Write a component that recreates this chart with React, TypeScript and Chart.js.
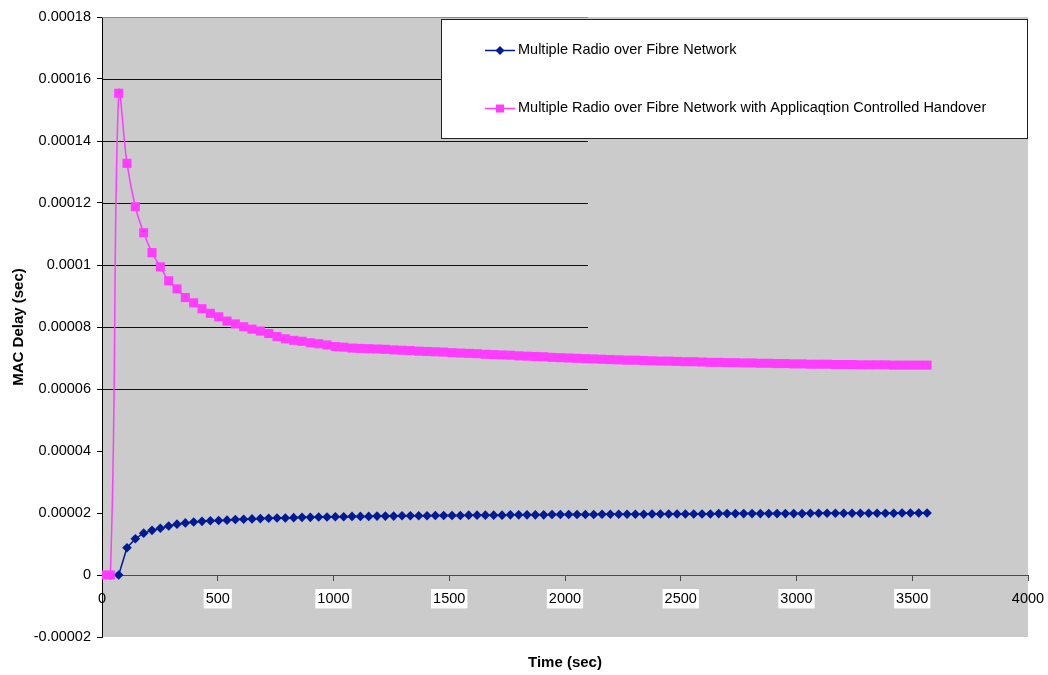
import React, { useEffect, useRef } from "react";
import { Chart, registerables } from "chart.js";

Chart.register(...registerables);

// ---- Data ----
const TIME_SEC = [
  0, 36, 72, 108, 144, 180, 216, 252, 288, 324,
  360, 396, 432, 468, 504, 540, 576, 612, 648, 684,
  720, 756, 792, 828, 864, 900, 936, 972, 1008, 1044,
  1080, 1116, 1152, 1188, 1224, 1260, 1296, 1332, 1368, 1404,
  1440, 1476, 1512, 1548, 1584, 1620, 1656, 1692, 1728, 1764,
  1800, 1836, 1872, 1908, 1944, 1980, 2016, 2052, 2088, 2124,
  2160, 2196, 2232, 2268, 2304, 2340, 2376, 2412, 2448, 2484,
  2520, 2556, 2592, 2628, 2664, 2700, 2736, 2772, 2808, 2844,
  2880, 2916, 2952, 2988, 3024, 3060, 3096, 3132, 3168, 3204,
  3240, 3276, 3312, 3348, 3384, 3420, 3456, 3492, 3528, 3564,
];

const MROF_DELAY = [
  0, 0, 0, 8.8e-6, 1.17e-5, 1.35e-5, 1.44e-5, 1.51e-5, 1.58e-5, 1.64e-5,
  1.68e-5, 1.71e-5, 1.73e-5, 1.75e-5, 1.76e-5, 1.77e-5, 1.79e-5, 1.8e-5, 1.81e-5, 1.82e-5,
  1.83e-5, 1.84e-5, 1.84e-5, 1.85e-5, 1.86e-5, 1.86e-5, 1.87e-5, 1.87e-5, 1.88e-5, 1.88e-5,
  1.89e-5, 1.89e-5, 1.89e-5, 1.9e-5, 1.9e-5, 1.9e-5, 1.91e-5, 1.91e-5, 1.91e-5, 1.91e-5,
  1.92e-5, 1.92e-5, 1.92e-5, 1.92e-5, 1.93e-5, 1.93e-5, 1.93e-5, 1.93e-5, 1.93e-5, 1.94e-5,
  1.94e-5, 1.94e-5, 1.94e-5, 1.94e-5, 1.95e-5, 1.95e-5, 1.95e-5, 1.95e-5, 1.95e-5, 1.95e-5,
  1.96e-5, 1.96e-5, 1.96e-5, 1.96e-5, 1.96e-5, 1.96e-5, 1.97e-5, 1.97e-5, 1.97e-5, 1.97e-5,
  1.97e-5, 1.97e-5, 1.97e-5, 1.97e-5, 1.98e-5, 1.98e-5, 1.98e-5, 1.98e-5, 1.98e-5, 1.98e-5,
  1.98e-5, 1.98e-5, 1.98e-5, 1.98e-5, 1.98e-5, 1.99e-5, 1.99e-5, 1.99e-5, 1.99e-5, 1.99e-5,
  1.99e-5, 1.99e-5, 1.99e-5, 1.99e-5, 1.99e-5, 1.99e-5, 2.0e-5, 2.0e-5, 2.0e-5, 2.0e-5,
];

const MROF_ACH_DELAY = [
  0, 0, 1.554e-4, 1.328e-4, 1.188e-4, 1.104e-4, 1.04e-4, 9.94e-5, 9.49e-5, 9.23e-5,
  8.95e-5, 8.78e-5, 8.59e-5, 8.44e-5, 8.33e-5, 8.19e-5, 8.1e-5, 8.01e-5, 7.93e-5, 7.87e-5,
  7.79e-5, 7.69e-5, 7.62e-5, 7.57e-5, 7.54e-5, 7.49e-5, 7.46e-5, 7.42e-5, 7.37e-5, 7.35e-5,
  7.32e-5, 7.31e-5, 7.3e-5, 7.29e-5, 7.28e-5, 7.26e-5, 7.25e-5, 7.24e-5, 7.22e-5, 7.21e-5,
  7.2e-5, 7.19e-5, 7.17e-5, 7.16e-5, 7.15e-5, 7.14e-5, 7.12e-5, 7.11e-5, 7.1e-5, 7.09e-5,
  7.07e-5, 7.06e-5, 7.05e-5, 7.04e-5, 7.02e-5, 7.01e-5, 7.0e-5, 6.99e-5, 6.98e-5, 6.97e-5,
  6.96e-5, 6.95e-5, 6.94e-5, 6.93e-5, 6.93e-5, 6.92e-5, 6.91e-5, 6.9e-5, 6.9e-5, 6.89e-5,
  6.88e-5, 6.88e-5, 6.87e-5, 6.86e-5, 6.86e-5, 6.85e-5, 6.85e-5, 6.84e-5, 6.84e-5, 6.83e-5,
  6.83e-5, 6.82e-5, 6.82e-5, 6.81e-5, 6.81e-5, 6.8e-5, 6.8e-5, 6.8e-5, 6.79e-5, 6.79e-5,
  6.79e-5, 6.78e-5, 6.78e-5, 6.78e-5, 6.78e-5, 6.77e-5, 6.77e-5, 6.77e-5, 6.77e-5, 6.77e-5,
];

const SERIES_NAMES = [
  "Multiple Radio over Fibre Network",
  "Multiple Radio over Fibre Network with Applicaqtion Controlled Handover",
];

const X_TITLE = "Time (sec)";
const Y_TITLE = "MAC Delay (sec)";
const X_MIN = 0;
const X_MAX = 4000;
const X_STEP = 500;
const Y_MIN = -0.00002;
const Y_MAX = 0.00018;
const Y_STEP = 0.00002;

// gridline rendering quirk of the original (lines drawn only on the upper-left part)
const GRID_END_X = 2100;
const GRID_FROM_Y = 0.00006;

const BLUE = "#001a96";
const PINK = "#ff3cff";
const PLOT_BG = "#cbcbcb";
const FONT = "'Liberation Sans', Arial, sans-serif";
const TICK_SIZE = 14.5;
const TITLE_SIZE = 15;

const bgPlugin = {
  id: "plotBg",
  beforeDraw(chart: any) {
    const { ctx, chartArea: a } = chart;
    ctx.save();
    ctx.fillStyle = PLOT_BG;
    ctx.fillRect(a.left, a.top, a.right - a.left, a.bottom - a.top);
    ctx.restore();
  },
};

const gridPlugin = {
  id: "partialGrid",
  beforeDatasetsDraw(chart: any) {
    const { ctx, chartArea: a } = chart;
    const xs = chart.scales.x;
    const ys = chart.scales.y;
    const xEnd = Math.round(xs.getPixelForValue(GRID_END_X));
    ctx.save();
    ys.ticks.forEach((t: any) => {
      if (t.value < GRID_FROM_Y - 1e-12) return;
      const y = Math.round(ys.getPixelForValue(t.value)) + 0.5;
      const isTop = Math.abs(t.value - Y_MAX) < 1e-12;
      ctx.strokeStyle = isTop ? "#8a8a8a" : "#111111";
      ctx.lineWidth = 1;
      ctx.beginPath();
      ctx.moveTo(a.left, y);
      ctx.lineTo(xEnd, y);
      ctx.stroke();
    });
    ctx.restore();
  },
};

function drawMarker(ctx: CanvasRenderingContext2D, style: string, x: number, y: number, color: string) {
  ctx.fillStyle = color;
  ctx.beginPath();
  if (style === "rectRot") {
    const r = 4.5;
    ctx.moveTo(x, y - r);
    ctx.lineTo(x + r, y);
    ctx.lineTo(x, y + r);
    ctx.lineTo(x - r, y);
    ctx.closePath();
  } else {
    ctx.rect(x - 4, y - 4, 8, 8);
  }
  ctx.fill();
}

const legendPlugin = {
  id: "boxLegend",
  afterDraw(chart: any) {
    const { ctx, chartArea: a } = chart;
    const left = 441.5;
    const top = 19.5;
    const right = a.right - 0.5;
    const bottom = 138.5;
    ctx.save();
    ctx.fillStyle = "#ffffff";
    ctx.fillRect(left, top, right - left, bottom - top);
    ctx.strokeStyle = "#222222";
    ctx.lineWidth = 1;
    ctx.strokeRect(left, top, right - left, bottom - top);
    const rows = [50, 108];
    chart.data.datasets.forEach((ds: any, i: number) => {
      const y = rows[i];
      ctx.strokeStyle = ds.borderColor;
      ctx.lineWidth = 1.5;
      ctx.beginPath();
      ctx.moveTo(485, y + 0.5);
      ctx.lineTo(515, y + 0.5);
      ctx.stroke();
      drawMarker(ctx, ds.pointStyle, 500, y + 0.5, ds.pointBackgroundColor);
      ctx.fillStyle = "#000";
      ctx.font = `${TICK_SIZE}px ${FONT}`;
      ctx.textBaseline = "middle";
      ctx.textAlign = "left";
      ctx.fillText(ds.label, 518, y);
    });
    ctx.restore();
  },
};

export default function App() {
  const ref = useRef<HTMLCanvasElement | null>(null);

  useEffect(() => {
    document.body.style.margin = "0";
    if (!ref.current) return;
    const chart = new Chart(ref.current, {
      type: "line",
      data: {
        datasets: [
          {
            label: SERIES_NAMES[0],
            data: TIME_SEC.map((t, i) => ({ x: t, y: MROF_DELAY[i] })),
            borderColor: BLUE,
            backgroundColor: BLUE,
            pointBackgroundColor: BLUE,
            pointBorderColor: BLUE,
            pointStyle: "rectRot",
            pointRadius: 4.8,
            pointBorderWidth: 0,
            borderWidth: 1.5,
            tension: 0,
            order: 1,
          },
          {
            label: SERIES_NAMES[1],
            data: TIME_SEC.map((t, i) => ({ x: t, y: MROF_ACH_DELAY[i] })),
            borderColor: PINK,
            backgroundColor: PINK,
            pointBackgroundColor: PINK,
            pointBorderColor: PINK,
            pointStyle: "rect",
            pointRadius: 6.4,
            pointBorderWidth: 0,
            borderWidth: 1.5,
            tension: 0.4,
            order: 0,
          },
        ],
      },
      options: {
        responsive: false,
        animation: false,
        layout: { padding: { left: 0, right: 20, top: 17, bottom: 0 } },
        plugins: {
          legend: { display: false },
          tooltip: { enabled: false },
          title: {
            display: true,
            text: X_TITLE,
            position: "bottom",
            fullSize: false,
            color: "#000",
            font: { family: FONT, size: TITLE_SIZE, weight: "bold" },
            padding: { top: 17, bottom: 3 },
          },
        },
        scales: {
          x: {
            type: "linear",
            position: { y: 0 },
            min: X_MIN,
            max: X_MAX,
            afterFit: (s: any) => {
              s.paddingLeft = 0;
              s.paddingRight = 0;
            },
            grid: {
              drawOnChartArea: false,
              drawTicks: true,
              tickLength: 5,
              color: "#4a4a4a",
            },
            border: { display: true, color: "#4a4a4a", width: 1 },
            ticks: {
              stepSize: X_STEP,
              color: "#000",
              font: { family: FONT, size: TICK_SIZE },
              padding: 10,
              maxRotation: 0,
              showLabelBackdrop: true,
              backdropPadding: { x: 2, y: 1 },
              backdropColor: (c: any) =>
                c.tick && (c.tick.value === X_MIN || c.tick.value === X_MAX) ? "rgba(0,0,0,0)" : "#ffffff",
              callback: (v: any) => String(v),
            },
          },
          y: {
            type: "linear",
            position: "left",
            min: Y_MIN,
            max: Y_MAX,
            afterFit: (s: any) => {
              s.width = 102;
            },
            grid: {
              drawOnChartArea: false,
              drawTicks: true,
              tickLength: 5,
              color: "#000",
            },
            border: { display: true, color: "#000", width: 1 },
            title: {
              display: true,
              text: Y_TITLE,
              color: "#000",
              font: { family: FONT, size: TITLE_SIZE, weight: "bold" },
              padding: { top: 10, bottom: 0 },
            },
            ticks: {
              stepSize: Y_STEP,
              color: "#000",
              font: { family: FONT, size: TICK_SIZE },
              padding: 6,
              callback: (v: any) => {
                const n = Number(v);
                if (Math.abs(n) < 1e-12) return "0";
                return String(parseFloat(n.toPrecision(6)));
              },
            },
          },
        },
      },
      plugins: [bgPlugin, gridPlugin, legendPlugin],
    } as any);
    return () => chart.destroy();
  }, []);

  return (
    <div style={{ width: 1048, height: 675, position: "relative" }}>
      <canvas ref={ref} width={1048} height={675} />
    </div>
  );
}
